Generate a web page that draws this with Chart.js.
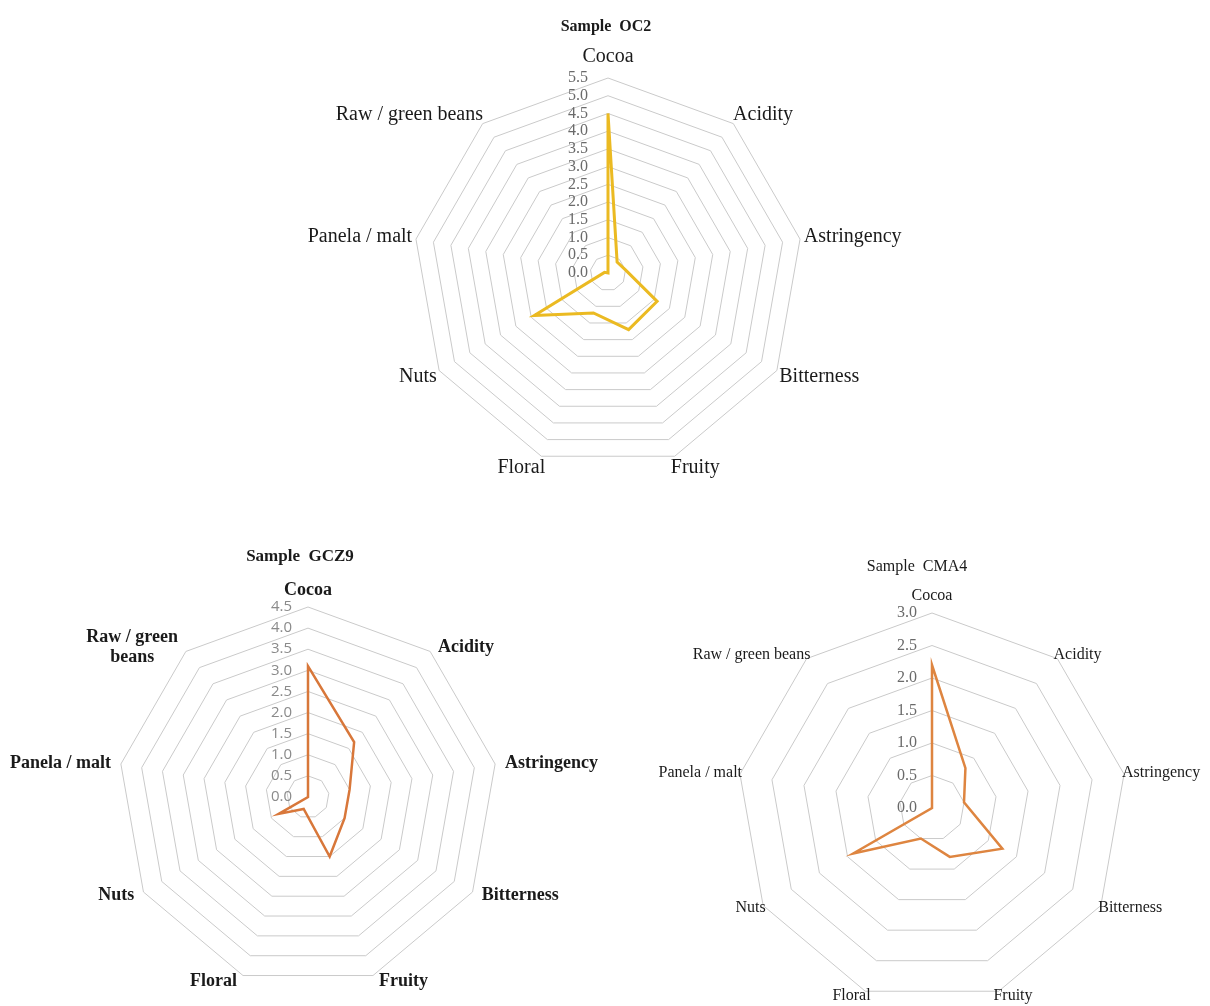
<!DOCTYPE html>
<html>
<head>
<meta charset="utf-8">
<script src="https://cdn.jsdelivr.net/npm/chart.js@4.4.1/dist/chart.umd.min.js"></script>
<style>
    html, body { margin: 0; padding: 0; background: #fff; }
    #wrap { position: relative; width: 1210px; height: 1006px; overflow: hidden; }
    canvas { position: absolute; }
</style>
</head>
<body>
<div id="wrap">
    <canvas id="oc2"></canvas>
    <canvas id="gcz9"></canvas>
    <canvas id="cma4"></canvas>
</div>
<script>
// Sensory profiles of three cocoa samples (radar charts)
const attributes = ['Cocoa', 'Acidity', 'Astringency', 'Bitterness', 'Fruity', 'Floral', 'Nuts', 'Panela / malt', 'Raw / green beans'];
const attributesGCZ9 = ['Cocoa', 'Acidity', 'Astringency', 'Bitterness', 'Fruity', 'Floral', 'Nuts', 'Panela / malt', ['Raw / green', 'beans']];

const valuesOC2 = [4.5, 0.4, 0.5, 1.6, 1.7, 1.2, 2.4, 0.1, 0.0];
const valuesGCZ9 = [3.1, 1.7, 1.0, 1.0, 1.5, 0.3, 0.8, 0.0, 0.0];
const valuesCMA4 = [2.2, 0.8, 0.5, 1.25, 0.8, 0.5, 1.4, 0.0, 0.0];

const ticksOC2 = [0.0, 0.5, 1.0, 1.5, 2.0, 2.5, 3.0, 3.5, 4.0, 4.5, 5.0, 5.5];
const ticksGCZ9 = [0.0, 0.5, 1.0, 1.5, 2.0, 2.5, 3.0, 3.5, 4.0, 4.5];
const ticksCMA4 = [0.0, 0.5, 1.0, 1.5, 2.0, 2.5, 3.0];

// Excel-style text: title, category labels beside the vertices, ticks left of the top axis
const excelText = {
    id: 'excelText',
    afterDraw(chart, args, o) {
        const ctx = chart.ctx;
        const scale = chart.scales.r;
        const R = scale.drawingArea;
        const labels = chart.data.labels;
        const n = labels.length;
        ctx.save();
        ctx.textBaseline = 'middle';

        // title
        ctx.font = o.titleFont;
        ctx.fillStyle = '#1a1a1a';
        ctx.textAlign = 'center';
        ctx.fillText(o.title, scale.xCenter + o.titleDx, scale.yCenter - R - o.titleGap);

        // category labels
        ctx.font = o.labelFont;
        labels.forEach((lab, i) => {
            const ang = i * 360 / n;
            const gap = i === 0 ? o.topGap : o.gap;
            const p = scale.getPointPosition(i, R + gap);
            const lines = Array.isArray(lab) ? lab : [lab];
            const w = Math.max(...lines.map(l => ctx.measureText(l).width));
            let x = p.x;
            if (ang > 1 && ang < 179) x = p.x - o.inset + w / 2;
            else if (ang > 181) x = p.x + o.inset - w / 2;
            ctx.textAlign = 'center';
            lines.forEach((ln, k) => {
                ctx.fillText(ln, x, p.y + (k - (lines.length - 1) / 2) * o.lineHeight);
            });
        });

        // radial tick labels
        ctx.font = o.tickFont;
        ctx.fillStyle = o.tickColor;
        ctx.textAlign = 'right';
        o.ticks.forEach(v => {
            const y = scale.yCenter - scale.getDistanceFromCenterForValue(v);
            ctx.fillText(v.toFixed(1), scale.xCenter - o.tickOffset, y);
        });
        ctx.restore();
    }
};

function radar(id, box, cx, cy, R, labels, values, ticks, color, lineWidth, text) {
    const el = document.getElementById(id);
    el.style.left = box.x + 'px';
    el.style.top = box.y + 'px';
    el.width = box.w;
    el.height = box.h;
    text.ticks = ticks;
    return new Chart(el, {
        type: 'radar',
        data: {
            labels: labels,
            datasets: [{
                data: values,
                borderColor: color,
                borderWidth: lineWidth,
                pointRadius: 0,
                fill: false,
                tension: 0
            }]
        },
        options: {
            responsive: false,
            animation: false,
            layout: {
                padding: {
                    left: cx - R - box.x,
                    right: box.x + box.w - cx - R,
                    top: cy - R - box.y,
                    bottom: box.y + box.h - cy - R
                }
            },
            plugins: {
                legend: { display: false },
                tooltip: { enabled: false },
                excelText: text
            },
            scales: {
                r: {
                    min: ticks[0],
                    max: ticks[ticks.length - 1],
                    ticks: { display: false, stepSize: 0.5 },
                    pointLabels: { display: false },
                    angleLines: { display: false },
                    grid: { color: '#CACACA', lineWidth: 1 }
                }
            }
        },
        plugins: [excelText]
    });
}

radar('oc2', { x: 250, y: 0, w: 720, h: 500 }, 608, 273, 195,
    attributes, valuesOC2, ticksOC2, '#EBBA22', 3, {
        title: 'Sample  OC2', titleFont: 'bold 16px "Liberation Serif"', titleDx: -2, titleGap: 51,
        labelFont: '20px "Liberation Serif"', gap: 12, topGap: 21, inset: 8, lineHeight: 20,
        tickFont: '16px "Liberation Serif"', tickColor: '#6A6A6A', tickOffset: 20
    });

radar('gcz9', { x: 0, y: 530, w: 620, h: 476 }, 308, 797, 190,
    attributesGCZ9, valuesGCZ9, ticksGCZ9, '#D8773A', 2.5, {
        title: 'Sample  GCZ9', titleFont: 'bold 17px "Liberation Serif"', titleDx: -8, titleGap: 50,
        labelFont: 'bold 18px "Liberation Serif"', gap: 6, topGap: 17, inset: -4, lineHeight: 20,
        tickFont: '15px "Open Sans"', tickColor: '#8A8A8A', tickOffset: 16
    });

radar('cma4', { x: 630, y: 530, w: 580, h: 476 }, 932, 808, 195,
    attributes, valuesCMA4, ticksCMA4, '#DE8540', 2.5, {
        title: 'Sample  CMA4', titleFont: '16px "Liberation Serif"', titleDx: -15, titleGap: 46,
        labelFont: '16px "Liberation Serif"', gap: 5, topGap: 17, inset: 7, lineHeight: 18,
        tickFont: '16px "Liberation Serif"', tickColor: '#6A6A6A', tickOffset: 15
    });
</script>
</body>
</html>
